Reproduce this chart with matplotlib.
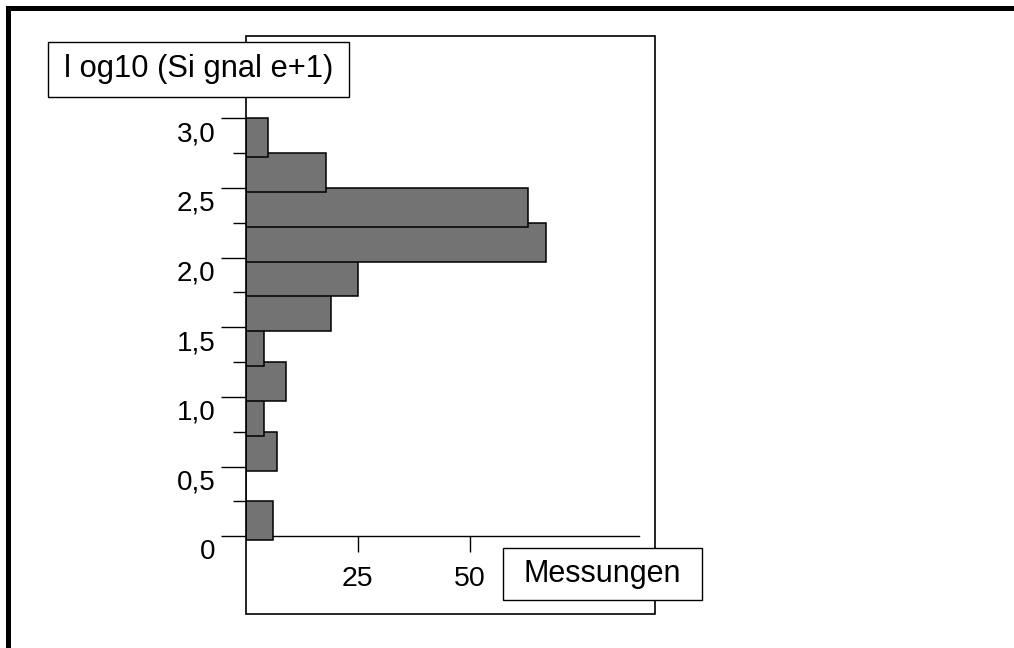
import matplotlib
matplotlib.use("Agg")
import matplotlib.pyplot as plt
from matplotlib.patches import Rectangle

plt.rcParams['font.family'] = ['Liberation Sans', 'DejaVu Sans']

# histogram of log10(Signale+1), bins of 0.25
bin_lo = [0.0, 0.25, 0.5, 0.75, 1.0, 1.25, 1.5, 1.75, 2.0, 2.25, 2.5, 2.75]
counts = [6, 0, 7, 4, 9, 4, 19, 25, 67, 63, 18, 5]
bin_w = 0.25

y_major = [0, 0.5, 1.0, 1.5, 2.0, 2.5, 3.0]
y_major_lbl = ['0', '0,5', '1,0', '1,5', '2,0', '2,5', '3,0']
y_minor = [0.25, 0.75, 1.25, 1.75, 2.25, 2.75]
x_ticks = [25, 50]
x_tick_lbl = ['25', '50']

W, H = 1014, 648
fig = plt.figure(figsize=(W / 100, H / 100), dpi=100)
ax = fig.add_axes([245.7 / W, 1 - 614 / H, (655 - 245.7) / W, (614 - 36) / H])
ax.set_xlim(0, 91.4)
ax.set_ylim(-0.558, 3.59)

# bars hang a bit below their bin (SPSS look)
bar_h = bin_w + 0.029
tops = [b + bin_w for b in bin_lo]
ax.barh([t - bar_h for t in tops], counts, height=bar_h, align='edge',
        color='#737373', edgecolor='black', linewidth=1.1, zorder=3)

# frame around the plot
for s in ['left', 'right', 'top']:
    ax.spines[s].set_visible(False)
ax.add_patch(Rectangle((0, 0), 1, 1, transform=ax.transAxes, fill=False,
                       edgecolor='black', linewidth=1.2, clip_on=False, zorder=4))

# x axis at zero
ax.spines['bottom'].set_position(('data', 0))
ax.spines['bottom'].set_bounds(0, 87.9)
ax.spines['bottom'].set_linewidth(1.0)
ax.set_xticks(x_ticks)
ax.set_xticklabels(x_tick_lbl, fontsize=20.5)
ax.tick_params(axis='x', direction='out', length=11.5, width=1.0, pad=10)

# y axis ticks, labels drawn below each tick
ax.set_yticks(y_major)
ax.set_yticks(y_minor, minor=True)
ax.set_yticklabels([])
ax.tick_params(axis='y', which='major', direction='out', length=18, width=1.0)
ax.tick_params(axis='y', which='minor', direction='out', length=9.4, width=1.0)
for v, lbl in zip(y_major, y_major_lbl):
    ax.annotate(lbl, xy=(0, v), xycoords=ax.get_yaxis_transform(),
                xytext=(-30, -3), textcoords='offset pixels',
                ha='right', va='top', fontsize=20)

# label boxes
def label_box(x0, y0, x1, y1, text, size):
    fig.add_artist(Rectangle((x0 / W, 1 - y1 / H), (x1 - x0) / W, (y1 - y0) / H,
                             transform=fig.transFigure, facecolor='white',
                             edgecolor='black', linewidth=1.0, zorder=5))
    fig.text((x0 + x1) / 2 / W, 1 - (y0 + y1) / 2 / H, text, ha='center',
             va='center', fontsize=size, zorder=6)

label_box(48.3, 42.3, 349.3, 96.7, 'l og10 (Si gnal e+1)', 22.2)
label_box(502.7, 548.3, 701.7, 600, 'Messungen', 22)

# thick outer border (top and left only visible)
fig.add_artist(Rectangle((7.5 / W, -0.1), 2, 1.1 - 8.5 / H, transform=fig.transFigure,
                         fill=False, edgecolor='black', linewidth=3.6, zorder=7))

fig.savefig('out.png', dpi=100)
